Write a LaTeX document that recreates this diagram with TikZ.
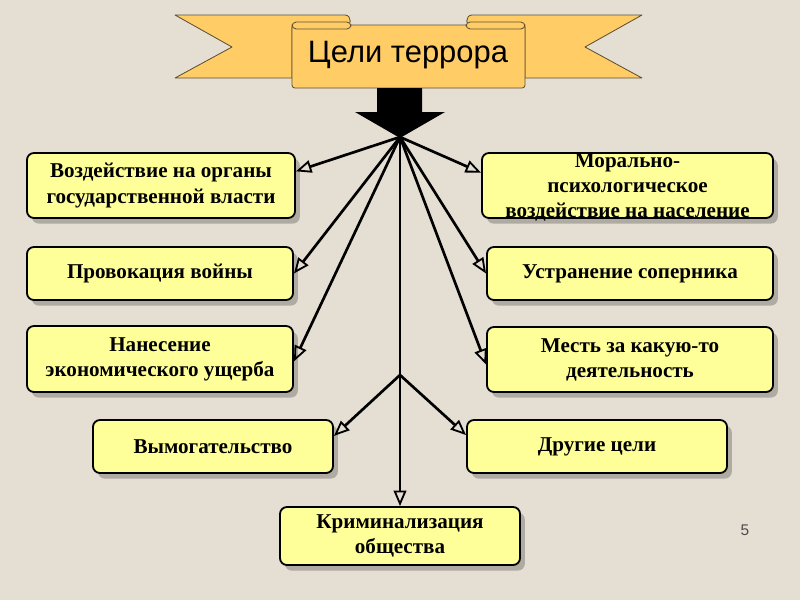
\documentclass[tikz,border=0pt]{standalone}
\usepackage{fontspec}
\setmainfont{Liberation Serif}
\newfontfamily\bannerfont{Liberation Sans}
\usepackage{xcolor}
\usetikzlibrary{arrows.meta, shadows}

\definecolor{paper}{RGB}{229,222,211}
\definecolor{ribbonfill}{RGB}{255,204,102}
\definecolor{ribbonline}{RGB}{95,80,50}
\definecolor{goalfill}{RGB}{255,255,153}

\begin{document}
\begin{tikzpicture}[
    x=0.025cm, y=-0.025cm,
    goal/.style={rectangle, draw, line width=1.3pt, fill=goalfill, rounded corners=5pt, align=center, inner sep=0pt,
        font=\fontsize{15}{17.8}\selectfont\bfseries,
        drop shadow={shadow xshift=0.12cm, shadow yshift=-0.14cm, opacity=0.35, fill=black!70}},
    ribbon/.style={draw=ribbonline, line width=0.6pt, fill=ribbonfill, line join=round},
    link/.style={line width=1.9pt, -{Triangle[open, length=11pt, width=9pt, line width=1.3pt]}}
]

% Background
\fill[paper] (0,0) rectangle (800,600);
\useasboundingbox (0,0) rectangle (800,600);

% Banner
\draw[ribbon] (175,15) -- (345,15) .. controls (352,15) and (352,27) .. (345,27) -- (292,27) -- (292,78) -- (175,78) -- (232,47) -- cycle;
\draw[ribbon] (642,15) -- (472,15) .. controls (465,15) and (465,27) .. (472,27) -- (525,27) -- (525,78) -- (642,78) -- (585,47) -- cycle;
\draw[ribbon, rounded corners=2pt] (292,25) rectangle (525,88);
\draw[ribbon, rounded corners=3pt] (292,22) rectangle (351,29);
\draw[ribbon, rounded corners=3pt] (466,22) rectangle (525,29);
\node (title) at (408,55) {\bannerfont\fontsize{22}{26}\selectfont Цели террора};

% Goals
\node (gov) [goal, minimum width=6.7cm, minimum height=1.625cm] at (161,185.5) {Воздействие на органы\\государственной власти};
\node (war) [goal, minimum width=6.65cm, minimum height=1.325cm] at (160,273.5) {Провокация войны};
\node (econ) [goal, minimum width=6.65cm, minimum height=1.65cm] at (160,359) {Нанесение\\экономического ущерба};
\node (moral) [goal, minimum width=7.275cm, minimum height=1.625cm, label={[font=\fontsize{15}{17.8}\selectfont\bfseries, align=center, yshift=-0.05cm]center:{Морально-\\психологическое\\воздействие на население}}] at (627.5,185.5) {};
\node (rival) [goal, minimum width=7.15cm, minimum height=1.325cm] at (630,273.5) {Устранение соперника};
\node (revenge) [goal, minimum width=7.15cm, minimum height=1.625cm] at (630,359.5) {Месть за какую-то\\деятельность};
\node (extort) [goal, minimum width=6cm, minimum height=1.325cm] at (213,446.5) {Вымогательство};
\node (other) [goal, minimum width=6.5cm, minimum height=1.325cm] at (597,446.5) {Другие цели};
\node (crime) [goal, minimum width=6cm, minimum height=1.45cm] at (400,536) {Криминализация\\общества};

% Arrows
\coordinate (hub) at (400,137);
\coordinate (fork) at (400,375);
\draw[link] (hub) -- (gov.6);
\draw[link] (hub) -- (war.east);
\draw[link] (hub) -- (econ.359);
\draw[link] (hub) -- (moral.175);
\draw[link] (hub) -- (rival.west);
\draw[link] (hub) -- (revenge.182);
\draw[link] (hub) -- (crime.north);
\draw[link] (fork) -- (extort.5);
\draw[link] (fork) -- (other.175);

% Big arrow under the banner
\fill (377,88) -- (422,88) -- (422,112) -- (445,112) -- (400,138) -- (355,112) -- (377,112) -- cycle;

\node (page) at (745,530) {\bannerfont\fontsize{11}{13}\selectfont\color{black!70}5};

\end{tikzpicture}
\end{document}
